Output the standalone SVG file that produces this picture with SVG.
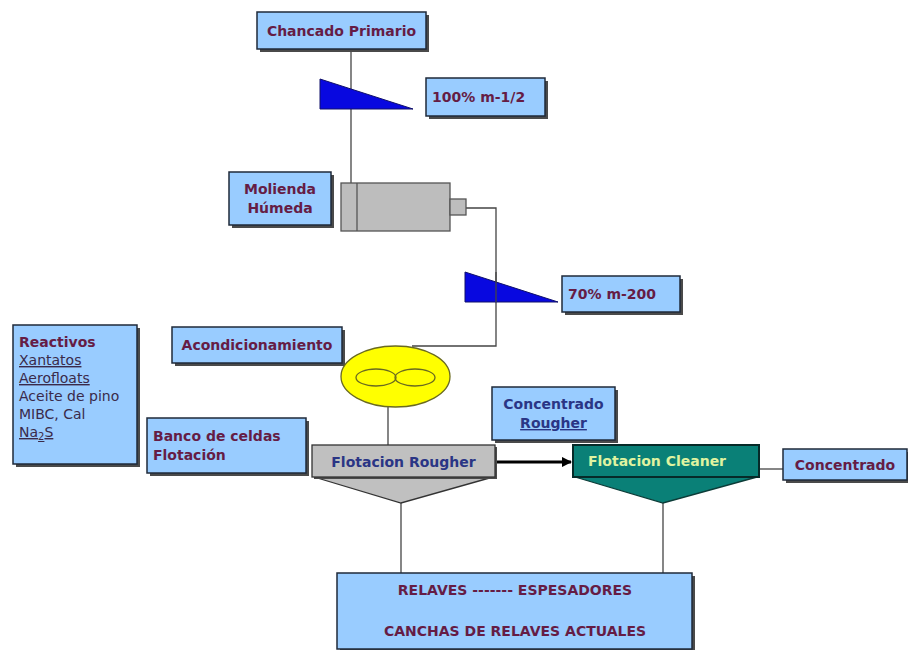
<svg xmlns="http://www.w3.org/2000/svg" width="908" height="650" viewBox="0 0 908 650">
<style>
.box{fill:#99ccff;stroke:#1f2a3a;stroke-width:1.5}
.sh{fill:#4a4a4a}
.t{font-family:"DejaVu Sans","Liberation Sans",Arial,sans-serif;font-weight:bold;font-size:14px;fill:#651c45}
.tn{font-family:"DejaVu Sans","Liberation Sans",Arial,sans-serif;font-size:14px;fill:#3a2a4a}
.tb{fill:#2a3585}
.ln{stroke:#444;stroke-width:1.3;fill:none}
.tri{fill:#0808e0;stroke:#10106a;stroke-width:1}
.grey{fill:#c0c0c0;stroke:#333;stroke-width:1.3}
</style>
<defs>
<marker id="ah" viewBox="0 0 10 10" refX="9" refY="5" markerWidth="3.5" markerHeight="3.5" orient="auto" markerUnits="strokeWidth">
<path d="M0,0 L10,5 L0,10 z" fill="#000"/>
</marker>
</defs>
<rect width="908" height="650" fill="#fff"/>

<g id="connectors">
<line class="ln" x1="351" y1="49" x2="351" y2="183"/>
<polyline class="ln" points="466,208 496,208 496,346 412,346"/>
<line class="ln" x1="388" y1="407" x2="388" y2="445"/>
<line class="ln" x1="401" y1="503" x2="401" y2="573"/>
<line class="ln" x1="663" y1="503" x2="663" y2="573"/>
<line class="ln" x1="759" y1="469" x2="783" y2="469"/>
<line x1="495" y1="462" x2="571" y2="462" stroke="#000" stroke-width="3" marker-end="url(#ah)"/>
</g>

<g id="chancado">
<rect class="sh" x="260" y="15" width="169" height="37"/>
<rect class="box" x="257" y="12" width="169" height="37"/>
<text class="t" x="341.5" y="35.5" text-anchor="middle">Chancado Primario</text>
</g>

<g id="criba1">
<polygon class="tri" points="320,79 320,109 413,109"/>
</g>

<g id="malla1">
<rect class="sh" x="429" y="81" width="119" height="38"/>
<rect class="box" x="426" y="78" width="119" height="38"/>
<text class="t" x="432" y="102">100% m-1/2</text>
</g>

<g id="molienda-label">
<rect class="sh" x="232" y="175" width="102" height="53"/>
<rect class="box" x="229" y="172" width="102" height="53"/>
<text class="t" x="280" y="194" text-anchor="middle">Molienda</text>
<text class="t" x="280" y="213" text-anchor="middle">Húmeda</text>
</g>

<g id="molino">
<rect x="341" y="183" width="109" height="48" fill="#bdbdbd" stroke="#555" stroke-width="1.3"/>
<line x1="357" y1="183" x2="357" y2="231" stroke="#555" stroke-width="1.3"/>
<rect x="450" y="199" width="16" height="16" fill="#bdbdbd" stroke="#555" stroke-width="1.3"/>
</g>

<g id="criba2">
<polygon class="tri" points="465,272 465,302 558,302"/>
<line class="ln" x1="496" y1="272" x2="496" y2="302"/>
</g>

<g id="malla2">
<rect class="sh" x="565" y="279" width="118" height="36"/>
<rect class="box" x="562" y="276" width="118" height="36"/>
<text class="t" x="568" y="299">70% m-200</text>
</g>

<g id="reactivos">
<rect class="sh" x="16" y="328" width="124" height="139"/>
<rect class="box" x="13" y="325" width="124" height="139"/>
<text class="t" x="19" y="347">Reactivos</text>
<text class="tn" x="19" y="365" text-decoration="underline">Xantatos</text>
<text class="tn" x="19" y="383" text-decoration="underline">Aerofloats</text>
<text class="tn" x="19" y="401">Aceite de pino</text>
<text class="tn" x="19" y="419">MIBC, Cal</text>
<text class="tn" x="19" y="437" text-decoration="underline">Na<tspan font-size="10" dy="3">2</tspan><tspan dy="-3">S</tspan></text>
</g>

<g id="acondicionamiento">
<rect class="sh" x="175" y="330" width="170" height="36"/>
<rect class="box" x="172" y="327" width="170" height="36"/>
<text class="t" x="257" y="350" text-anchor="middle">Acondicionamiento</text>
</g>

<g id="acondicionador">
<ellipse cx="395.5" cy="376.5" rx="54.5" ry="30.5" fill="#ffff00" stroke="#6a6a20" stroke-width="1.3"/>
<ellipse cx="376" cy="377.5" rx="20" ry="8.5" fill="none" stroke="#6a6a20" stroke-width="1.3"/>
<ellipse cx="415" cy="377.5" rx="20" ry="8.5" fill="none" stroke="#6a6a20" stroke-width="1.3"/>
</g>

<g id="banco">
<rect class="sh" x="150" y="421" width="159" height="55"/>
<rect class="box" x="147" y="418" width="159" height="55"/>
<text class="t" x="153" y="441">Banco de celdas</text>
<text class="t" x="153" y="460">Flotación</text>
</g>

<g id="conc-rougher">
<rect class="sh" x="495" y="390" width="123" height="53"/>
<rect class="box" x="492" y="387" width="123" height="53"/>
<text class="t tb" x="553.5" y="409" text-anchor="middle">Concentrado</text>
<text class="t tb" x="553.5" y="428" text-anchor="middle" text-decoration="underline">Rougher</text>
</g>

<g id="rougher">
<polygon class="grey" points="314,477 493,477 401,503"/>
<rect class="sh" x="314" y="447" width="183" height="32"/>
<rect class="grey" x="312" y="445" width="183" height="32"/>
<text class="t tb" x="403.5" y="467" text-anchor="middle">Flotacion Rougher</text>
</g>

<g id="cleaner">
<polygon points="575,477 757,477 663,503" fill="#0a8077" stroke="#0c3c38" stroke-width="1.3"/>
<rect x="573" y="445" width="186" height="32" fill="#0a8077" stroke="#062a28" stroke-width="2"/>
<text class="t" x="657" y="466" text-anchor="middle" style="fill:#dff3a0">Flotacion Cleaner</text>
</g>

<g id="concentrado">
<rect class="sh" x="786" y="452" width="124" height="31"/>
<rect class="box" x="783" y="449" width="124" height="31"/>
<text class="t" x="845" y="470" text-anchor="middle">Concentrado</text>
</g>

<g id="relaves">
<rect class="sh" x="340" y="576" width="355" height="80"/>
<rect class="box" x="337" y="573" width="355" height="76"/>
<text class="t" x="515" y="595" text-anchor="middle">RELAVES ------- ESPESADORES</text>
<text class="t" x="515" y="636" text-anchor="middle">CANCHAS DE RELAVES ACTUALES</text>
</g>
</svg>
